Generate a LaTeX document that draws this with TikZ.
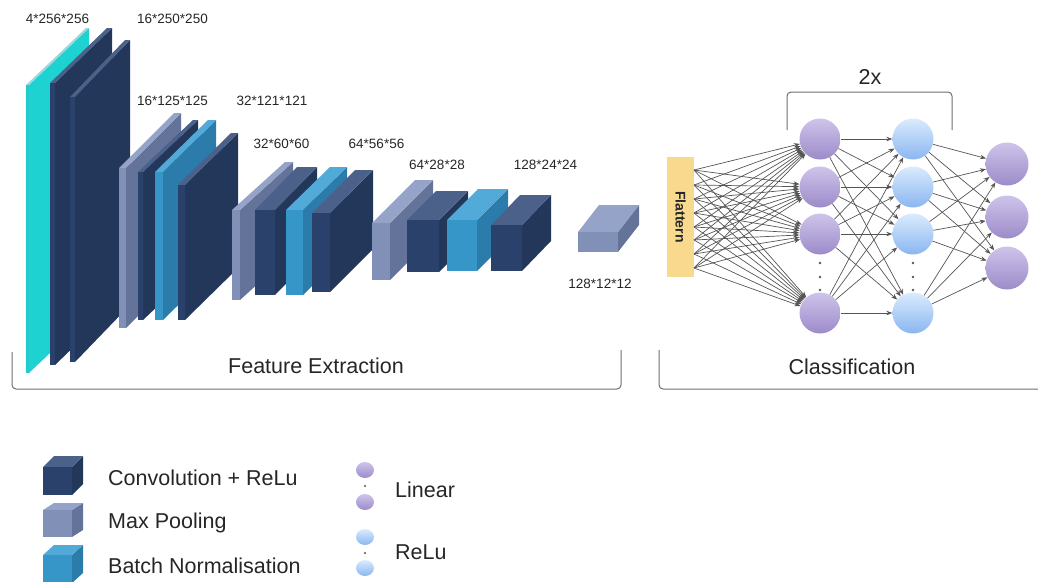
\documentclass[tikz,border=0pt]{standalone}
\usepackage{fontspec}
\setmainfont{Liberation Sans}
\usetikzlibrary{arrows.meta}

\definecolor{convfront}{HTML}{2A426B}
\definecolor{convside}{HTML}{22375A}
\definecolor{convtop}{HTML}{4B6189}
\definecolor{poolfront}{HTML}{8090B6}
\definecolor{poolside}{HTML}{63739A}
\definecolor{pooltop}{HTML}{95A3C8}
\definecolor{bnfront}{HTML}{3796C8}
\definecolor{bnside}{HTML}{2B7CAA}
\definecolor{bntop}{HTML}{52AAD8}
\definecolor{inpfront}{HTML}{22CCCC}
\definecolor{inpside}{HTML}{1ED2D2}
\definecolor{inptop}{HTML}{9ED6D9}
\definecolor{linTop}{HTML}{CEC4EA}
\definecolor{linBot}{HTML}{9C8BC9}
\definecolor{reluTop}{HTML}{DAEBFD}
\definecolor{reluBot}{HTML}{8AB6F0}
\definecolor{flatYellow}{HTML}{F8D98E}
\definecolor{wireGrey}{HTML}{555555}
\definecolor{textGrey}{HTML}{262626}
\definecolor{bracketGrey}{HTML}{6E6E6E}

% x y w h dx dy kind
\newcommand{\cnnblock}[7]{%
  \fill[#7side] (#1+#3,#2) -- ++(#5,-#6) -- ++(0,#4) -- ++(-#5,#6) -- cycle;
  \fill[#7top] (#1,#2) -- ++(#5,-#6) -- ++(#3,0) -- ++(-#5,#6) -- cycle;
  \fill[#7front] (#1,#2) rectangle ++(#3,#4);
}

\tikzset{
  lin/.style={circle, minimum size=41pt, inner sep=0pt, top color=linTop, bottom color=linBot},
  rel/.style={circle, minimum size=41pt, inner sep=0pt, top color=reluTop, bottom color=reluBot},
  conn/.style={draw=wireGrey, line width=0.7pt, -{Stealth[length=6pt,width=4.5pt]}},
  dimlabel/.style={inner sep=0pt, anchor=base, text=textGrey, font=\fontsize{13.5}{16}\selectfont},
  bigtext/.style={inner sep=0pt, text=textGrey, font=\fontsize{21.5}{26}\selectfont},
  bracket/.style={draw=bracketGrey, line width=1pt, rounded corners=4pt}
}

\begin{document}
\begin{tikzpicture}[x=1pt, y=-1pt]
    \useasboundingbox (0,0) rectangle (1038,581);
    % feature extraction
    \cnnblock{26}{85}{3}{288}{60}{57}{inp}
    \cnnblock{50}{83}{5}{282}{57}{55}{conv}
    \cnnblock{70}{97}{5}{265}{55}{57}{conv}
    \cnnblock{119}{168}{7}{160}{55}{55}{pool}
    \cnnblock{138}{172}{5}{148}{55}{52}{conv}
    \cnnblock{155}{172}{8}{148}{53}{52}{bn}
    \cnnblock{178}{185}{7}{135}{53}{52}{conv}
    \cnnblock{232}{210}{8}{90}{53}{48}{pool}
    \cnnblock{255}{210}{20}{85}{42}{43}{conv}
    \cnnblock{286}{210}{17}{85}{44}{43}{bn}
    \cnnblock{312}{213}{18}{79}{43}{43}{conv}
    \cnnblock{372}{223}{18}{57}{43}{43}{pool}
    \cnnblock{407}{220}{32}{52}{29}{29}{conv}
    \cnnblock{447}{220}{30}{51}{31}{31}{bn}
    \cnnblock{491}{225}{31}{46}{29}{30}{conv}
    \cnnblock{578}{232}{40}{20}{21}{27}{pool}

    \node [dimlabel] (d1) at (57.5,23) {4*256*256};
    \node [dimlabel] (d2) at (172.5,23) {16*250*250};
    \node [dimlabel] (d3) at (172.5,105) {16*125*125};
    \node [dimlabel] (d4) at (272,105) {32*121*121};
    \node [dimlabel] (d5) at (281.5,148) {32*60*60};
    \node [dimlabel] (d6) at (376.5,148) {64*56*56};
    \node [dimlabel] (d7) at (437,169) {64*28*28};
    \node [dimlabel] (d8) at (545.5,169) {128*24*24};
    \node [dimlabel] (d9) at (600,288) {128*12*12};

    % classification
    \node [fill=flatYellow, minimum width=120pt, minimum height=27pt, inner sep=0pt, rotate=-90,
        text=textGrey, font=\bfseries\fontsize{14}{16}\selectfont] (flat) at (680.5,217) {Flattern};
    \foreach \k/\y in {1/170,2/185,3/199,4/213,5/227,6/240,7/254,8/268}
        \coordinate (s\k) at (694,\y);
    \foreach \i/\y in {1/139,2/187,3/234,4/313} {
        \node [lin] (a\i) at (820,\y) {};
        \node [rel] (b\i) at (913,\y) {};
    }
    \foreach \i/\y in {1/164,2/217,3/268}
        \node [lin, minimum size=43pt] (c\i) at (1007,\y) {};
    \foreach \y in {263,277,290} {
        \fill [wireGrey] (820,\y) circle (1.3);
        \fill [wireGrey] (913,\y) circle (1.3);
    }
    \foreach \k in {1,...,8}
        \foreach \i in {1,...,4}
            \draw [conn] (s\k) -- (a\i);
    \foreach \i in {1,...,4}
        \foreach \j in {1,...,4}
            \draw [conn] (a\i) -- (b\j);
    \foreach \i in {1,...,4}
        \foreach \j in {1,2,3}
            \draw [conn] (b\i) -- (c\j);

    \draw [bracket] (787,130) -- (787,92) -- (952,92) -- (952,130);
    \node [bigtext, anchor=base] (rep) at (870,84) {2x};

    % brackets
    \draw [bracket] (12,352) -- (12,389) -- (621,389) -- (621,350);
    \draw [bracket] (659,350) -- (659,389) -- (1045,389);
    \node [bigtext, anchor=base] (fe) at (316,373) {Feature Extraction};
    \node [bigtext, anchor=base] (cl) at (852,374) {Classification};

    % legend
    \cnnblock{43}{467}{29}{28}{11}{11}{conv}
    \cnnblock{43}{510}{29}{27}{11}{7}{pool}
    \cnnblock{43}{555}{29}{28}{11}{10}{bn}
    \node [bigtext, anchor=base west] (lg1) at (108,485) {Convolution + ReLu};
    \node [bigtext, anchor=base west] (lg2) at (108,528) {Max Pooling};
    \node [bigtext, anchor=base west] (lg3) at (108,573) {Batch Normalisation};
    \shade [top color=linTop, bottom color=linBot] (365,470) ellipse (9 and 8);
    \shade [top color=linTop, bottom color=linBot] (365,502) ellipse (9 and 8);
    \fill [wireGrey] (365,486) circle (1.2);
    \shade [top color=reluTop, bottom color=reluBot] (365,537) ellipse (9 and 8);
    \shade [top color=reluTop, bottom color=reluBot] (365,568) ellipse (9 and 8);
    \fill [wireGrey] (365,553) circle (1.2);
    \node [bigtext, anchor=base west] (lg4) at (395,497) {Linear};
    \node [bigtext, anchor=base west] (lg5) at (395,559) {ReLu};
\end{tikzpicture}
\end{document}
